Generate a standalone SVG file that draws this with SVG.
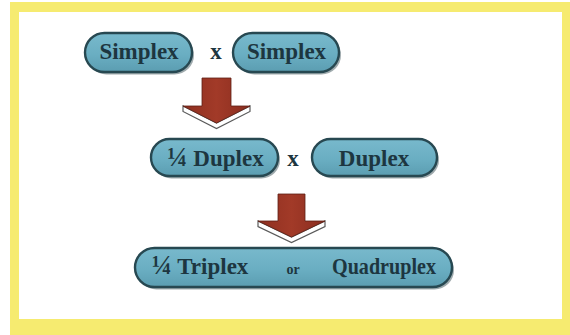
<svg xmlns="http://www.w3.org/2000/svg" width="570" height="335" viewBox="0 0 570 335">
  <defs>
    <linearGradient id="pillFill" x1="0" y1="0" x2="0" y2="1">
      <stop offset="0" stop-color="#78b9cc"/>
      <stop offset="0.55" stop-color="#6aaec2"/>
      <stop offset="1" stop-color="#5b9db1"/>
    </linearGradient>
    <linearGradient id="arrowFill" x1="0" y1="0" x2="1" y2="0">
      <stop offset="0" stop-color="#8e2f20"/>
      <stop offset="0.5" stop-color="#a23a28"/>
      <stop offset="1" stop-color="#8a2d1f"/>
    </linearGradient>
    <style>
      .pill { fill: url(#pillFill); stroke: #274851; stroke-width: 2.4; }
      .pill-shadow { fill: #7f8d91; opacity: 0.75; }
      .label { font-family: "Liberation Serif", "Times New Roman", serif; font-weight: bold; fill: #1d3640; font-size: 23px; text-anchor: middle; }
      .frac { font-size: 27px; }
      .small { font-family: "Liberation Serif", "Times New Roman", serif; font-weight: bold; fill: #1d3640; text-anchor: middle; }
      .arrow { fill: url(#arrowFill); stroke: #5e1f14; stroke-width: 0.8; }
      .bevel { fill: #ffffff; stroke: #5a5a5a; stroke-width: 1.2; stroke-linejoin: miter; }
    </style>
  </defs>

  <!-- yellow frame -->
  <rect x="10" y="2" width="562" height="335" fill="#f6eb70"/>
  <rect x="19" y="12" width="543" height="307" fill="#ffffff"/>

  <!-- row 1 -->
  <g id="simplex-a">
    <rect class="pill-shadow" x="87" y="35.5" width="107" height="39" rx="19.5"/>
    <rect class="pill" x="85" y="33" width="107" height="39" rx="19.5"/>
    <text class="label" x="139" y="58.5">Simplex</text>
  </g>
  <text class="label" x="216" y="58.5" font-size="20">x</text>
  <g id="simplex-b">
    <rect class="pill-shadow" x="235" y="35.5" width="106" height="39" rx="19.5"/>
    <rect class="pill" x="233" y="33" width="106" height="39" rx="19.5"/>
    <text class="label" x="286.5" y="58.5">Simplex</text>
  </g>

  <!-- row 2 -->
  <g id="quarter-duplex">
    <rect class="pill-shadow" x="153" y="141.5" width="127" height="37" rx="18.5"/>
    <rect class="pill" x="151" y="139" width="127" height="37" rx="18.5"/>
    <text class="label" x="215.5" y="166"><tspan class="frac">¼</tspan> Duplex</text>
  </g>
  <text class="label" x="293" y="166" font-size="20">x</text>
  <g id="duplex">
    <rect class="pill-shadow" x="314" y="141.5" width="125" height="37" rx="18.5"/>
    <rect class="pill" x="312" y="139" width="125" height="37" rx="18.5"/>
    <text class="label" x="374" y="166">Duplex</text>
  </g>

  <!-- row 3 -->
  <g id="triplex-or-quadruplex">
    <rect class="pill-shadow" x="137" y="250.5" width="317" height="39" rx="19.5"/>
    <rect class="pill" x="135" y="248" width="317" height="39" rx="19.5"/>
    <text class="label" x="200" y="273.5"><tspan class="frac">¼</tspan> Triplex</text>
    <text class="small" x="293" y="273.5" font-size="14">or</text>
    <text class="label" x="384" y="273.5" textLength="104" lengthAdjust="spacingAndGlyphs">Quadruplex</text>
  </g>

  <!-- connectors -->
  <g id="connectors">
    <g id="arrow-1">
      <polygon class="bevel" points="183,106 216.5,123 250,106 250,111.5 216.5,128.5 183,111.5"/>
      <polygon class="arrow" points="202,78 231,78 231,106 250,106 216.5,123 183,106 202,106"/>
    </g>
    <g id="arrow-2">
      <polygon class="bevel" points="258,221 291.5,237 325,221 325,226.5 291.5,242.5 258,226.5"/>
      <polygon class="arrow" points="278,194 305,194 305,221 325,221 291.5,237 258,221 278,221"/>
    </g>
  </g>
</svg>
